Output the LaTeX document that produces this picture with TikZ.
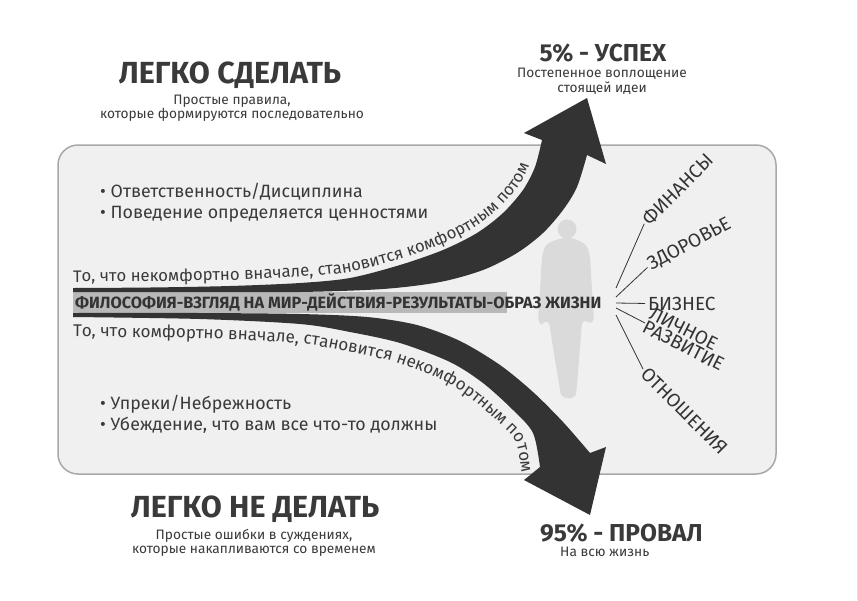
\documentclass[tikz,border=0pt]{standalone}
\usepackage{fontspec}
\setmainfont{Fira Sans}
\usetikzlibrary{decorations.text}
\definecolor{ink}{HTML}{333333}
\definecolor{txt}{HTML}{3A3A3A}
\definecolor{panel}{HTML}{F0F0F0}
\definecolor{panelline}{HTML}{A8A8A8}
\definecolor{bandgray}{HTML}{B8B8B8}
\definecolor{persongray}{HTML}{DADADA}
\newcommand\arrowtextfont{\fontsize{17}{17}\selectfont}
\newcommand\arrowtextfonttop{\fontsize{16.7}{16.7}\selectfont}
\tikzset{
  every node/.style={inner sep=0pt, text=txt},
  headbig/.style={font=\fontsize{30.5}{30.5}\selectfont\bfseries},
  headpct/.style={font=\fontsize{24.5}{24.5}\selectfont\bfseries},
  subtxt/.style={font=\fontsize{13.7}{13.7}\selectfont},
  bullettxt/.style={font=\fontsize{17.8}{17.8}\selectfont, anchor=base west},
  bandtxt/.style={font=\fontsize{16.3}{16.3}\selectfont\bfseries, anchor=base west, text=ink},
  lbl/.style={font=\fontsize{19}{15}\selectfont, text=ink, align=left},
  lblline/.style={draw=ink, line width=0.8pt},
}
\begin{document}
\begin{tikzpicture}[x=1pt,y=-1pt]
\useasboundingbox (0,0) rectangle (858,600);
\fill[white] (0,0) rectangle (858,600);
\draw[black!12, line width=1pt] (857.5,0) -- (857.5,600);

% panel
\draw[rounded corners=20pt, fill=panel, draw=panelline, line width=1.5pt] (58,145) rectangle (776,474);

% person silhouette
\fill[persongray] (567,229) circle (9.5);
\fill[persongray, rounded corners=3pt] (562,238) -- (550,242) -- (545,246) -- (542,256) -- (540,290) -- (538,319) -- (541,326) -- (545,321) -- (549,322) -- (555,360) -- (561,396) -- (569,399) -- (576,396) -- (579,360) -- (582,322) -- (586,320) -- (590,324) -- (594,320) -- (592,290) -- (590,256) -- (587,246) -- (582,242) -- (572,238) -- cycle;

% band
\fill[bandgray] (73,292) rectangle (507,313);

% top arrow
\fill[ink] plot[smooth] coordinates {(73,288) (150,287.5) (230,286) (300,283) (350,278) (400,265) (443,250) (477,233) (503,213) (523,190) (535,167) (542,140)}
  -- (524,133) -- (587,98) -- (606,164)
  -- plot[smooth] coordinates {(587,155) (577,187) (563,210) (543,233) (517,253) (483,270) (440,282) (383,289) (300,292) (200,292) (73,292)} -- cycle;

% bottom arrow
\fill[ink] plot[smooth] coordinates {(73,313) (200,313) (300,314) (367,317) (417,325) (460,341) (500,365) (533,392) (563,422) (590,453)}
  -- (606,447) -- (590,515) -- (524,480)
  -- plot[smooth] coordinates {(540,467) (533,433) (513,410) (483,383) (450,362) (400,343) (350,332) (300,324) (200,319) (73,317)} -- cycle;

% texts along arrows (baselines offset from the arrow edges)
\path[decorate, decoration={text along path, text color=txt,
  text={|\arrowtextfonttop|То, что некомфортно вначале, становится комфортным потом}}]
  plot[smooth] coordinates {(73,282) (150,281.5) (230,280) (299.3,277) (349,272) (398.3,259.3) (440.7,244.5) (473.9,227.9) (498.9,208.6) (518.1,186.6) (529.4,164.9) (536.2,138.5) (541,112) (547,85)};
\path[decorate, decoration={text along path, text color=txt,
  text={|\arrowtextfont|То, что комфортно вначале, становится некомфортным потом}}]
  plot[smooth] coordinates {(73,336.5) (199.4,338.5) (298.4,343.5) (346.4,351.5) (394.5,362) (441.8,380) (471.5,399) (499.6,424) (515.8,442) (521.4,471) (524,495) (528,520)};

% band text
\node[bandtxt] (philo) at (75,308) {ФИЛОСОФИЯ-ВЗГЛЯД НА МИР-ДЕЙСТВИЯ-РЕЗУЛЬТАТЫ-ОБРАЗ ЖИЗНИ};

% bullets
\node[bullettxt] (b1) at (100,197) {• Ответственность/Дисциплина};
\node[bullettxt] (b2) at (100,218) {• Поведение определяется ценностями};
\node[bullettxt] (b3) at (100,409) {• Упреки/Небрежность};
\node[bullettxt] (b4) at (100,430) {• Убеждение, что вам все что-то должны};

% headings
\node[headbig, anchor=base] (easy) at (230,83) {ЛЕГКО СДЕЛАТЬ};
\node[subtxt, anchor=base] (easy1) at (232,104) {Простые правила,};
\node[subtxt, anchor=base] (easy2) at (232,118) {которые формируются последовательно};

\node[headpct, anchor=base] (succ) at (603,61) {5\% - УСПЕХ};
\node[subtxt, anchor=base] (succ1) at (602,77) {Постепенное воплощение};
\node[subtxt, anchor=base] (succ2) at (602,92) {стоящей идеи};

\node[headbig, anchor=base] (hard) at (255,517) {ЛЕГКО НЕ ДЕЛАТЬ};
\node[subtxt, anchor=base] (hard1) at (254,539) {Простые ошибки в суждениях,};
\node[subtxt, anchor=base] (hard2) at (254,553) {которые накапливаются со временем};

\node[headpct, anchor=base west] (fail) at (540,541) {95\% - ПРОВАЛ};
\node[subtxt, anchor=base west] (fail1) at (560,556) {На всю жизнь};

% life areas
\coordinate (h1) at (616,288);
\coordinate (h2) at (616,297);
\coordinate (h3) at (616,303);
\coordinate (h4) at (616,308);
\coordinate (h5) at (616,315);
\coordinate (e4) at (645,323);
\node[lbl, rotate=45, anchor=west] (fin) at (645,222) {ФИНАНСЫ};
\node[lbl, rotate=28, anchor=west] (zdr) at (649,266) {ЗДОРОВЬЕ};
\node[lbl, anchor=west] (biz) at (648,303.5) {БИЗНЕС};
\node[lbl, rotate=-27, anchor=north west] (lich) at (654,306) {ЛИЧНОЕ\\РАЗВИТИЕ};
\node[lbl, rotate=-45, anchor=west] (otn) at (644,371) {ОТНОШЕНИЯ};
\draw[lblline, shorten >=2pt] (h1) -- (fin.west);
\draw[lblline, shorten >=2pt] (h2) -- (zdr.west);
\draw[lblline, shorten >=3pt] (h3) -- (biz.west);
\draw[lblline] (h4) -- (e4);
\draw[lblline, shorten >=2pt] (h5) -- (otn.west);
\end{tikzpicture}
\end{document}
